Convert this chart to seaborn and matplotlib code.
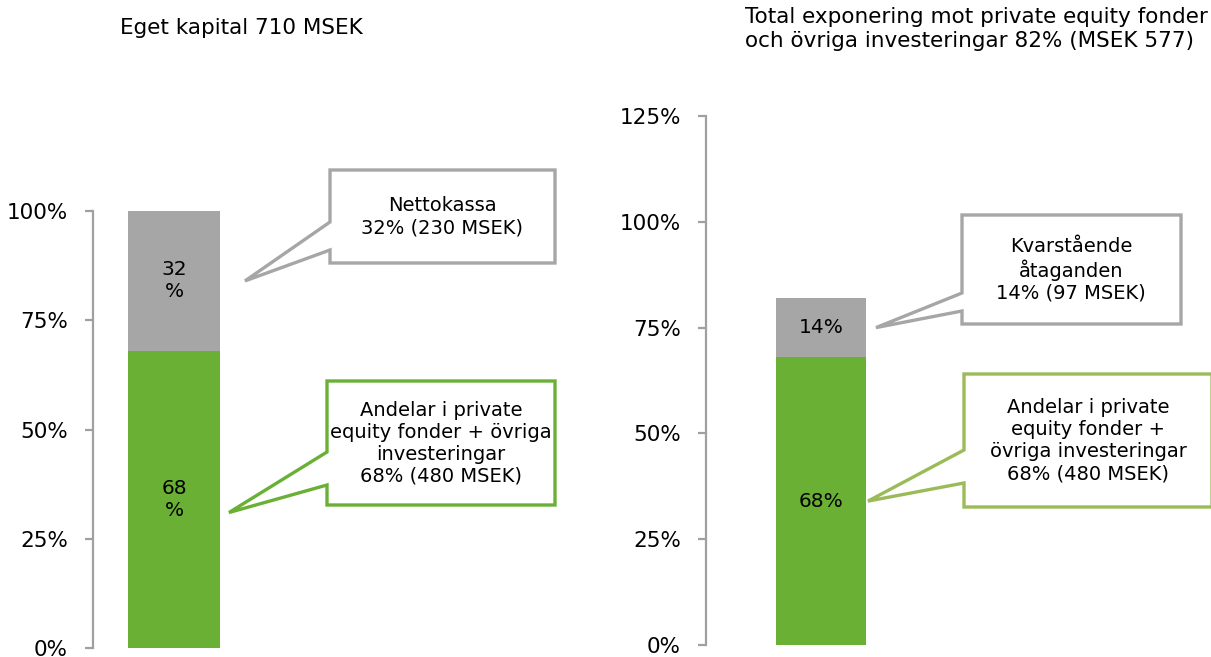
import matplotlib
matplotlib.use("Agg")
import matplotlib.pyplot as plt
from matplotlib.patches import Polygon
import seaborn as sns

# data (percent of equity)
left_title = "Eget kapital 710 MSEK"
left_values = [68, 32]            # investments, net cash
left_labels = ["68\n%", "32\n%"]
left_notes = ["Andelar i private\nequity fonder + övriga\ninvesteringar\n68% (480 MSEK)",
              "Nettokassa\n32% (230 MSEK)"]

right_title = "Total exponering mot private equity fonder\noch övriga investeringar 82% (MSEK 577)"
right_values = [68, 14]           # investments, remaining commitments
right_labels = ["68%", "14%"]
right_notes = ["Andelar i private\nequity fonder +\növriga investeringar\n68% (480 MSEK)",
               "Kvarstående\nåtaganden\n14% (97 MSEK)"]

W, H = 1211, 657
green = "#69B034"
green_light = "#9BBB59"
gray = "#A6A6A6"
axis_gray = "#A0A0A0"

sns.set_style("white")
plt.rcParams['font.family'] = ['DejaVu Sans']
plt.rcParams['text.color'] = 'black'

fig = plt.figure(figsize=(W / 100, H / 100), dpi=100)


def px_axes(left, top, right, bottom):
    return fig.add_axes([left / W, 1 - bottom / H, (right - left) / W, (bottom - top) / H])


def fig_xy(x, y):
    return (x / W, 1 - y / H)


def stacked_bar(ax, values, labels, width, ymax, ticks):
    total = sum(values)
    sns.barplot(x=["a"], y=[total], color=gray, saturation=1, width=width,
                linewidth=0, ax=ax)
    sns.barplot(x=["a"], y=[values[0]], color=green, saturation=1, width=width,
                linewidth=0, ax=ax)
    ax.set_xlim(-0.5, 0.5)
    ax.set_ylim(0, ymax)
    ax.set_yticks(ticks)
    ax.set_yticklabels([f"{t}%" for t in ticks])
    ax.set_xticks([])
    ax.set_xlabel("")
    ax.set_ylabel("")
    sns.despine(ax=ax, bottom=True)
    ax.spines['left'].set_color(axis_gray)
    ax.spines['left'].set_linewidth(1.6)
    ax.tick_params(axis='y', length=6, width=1.6, color=axis_gray, left=True,
                   labelsize=15.5, pad=12, labelcolor="black")
    # segment labels
    ax.text(0, values[0] / 2, labels[0], ha='center', va='center', fontsize=14.5,
            linespacing=1.2)
    ax.text(0, values[0] + values[1] / 2, labels[1], ha='center', va='center',
            fontsize=14.5, linespacing=1.2)


def tip_px(ax, value, half_width, offset):
    x, y = ax.transData.transform((half_width, value))
    return (x + offset, H - y)


def callout(box, joins, tip, edge, text, text_x):
    x0, y0, x1, y1 = box
    pts = [(x0, y0), (x1, y0), (x1, y1), (x0, y1), (x0, joins[1]), tip, (x0, joins[0])]
    fig.add_artist(Polygon([fig_xy(*p) for p in pts], closed=True, facecolor="white",
                           edgecolor=edge, linewidth=2.4, joinstyle="miter",
                           transform=fig.transFigure))
    fig.text(*fig_xy(text_x, (y0 + y1) / 2), text, ha='center', va='center',
             fontsize=14, linespacing=1.2)


# left chart
axl = px_axes(93, 211, 255, 648)
stacked_bar(axl, left_values, left_labels, 92 / 162, 100, [0, 25, 50, 75, 100])
fig.text(*fig_xy(120, 28), left_title, ha='left', va='center', fontsize=15.5)

# right chart
axr = px_axes(706, 116, 936, 645)
stacked_bar(axr, right_values, right_labels, 90 / 230, 125, [0, 25, 50, 75, 100, 125])
fig.text(*fig_xy(745, 29), right_title, ha='left', va='center', fontsize=15.5, linespacing=1.2)

# callouts
t = tip_px(axl, left_values[0] + left_values[1] / 2, 0.5 * 92 / 162, 25)
callout((330, 170, 555, 263), (222, 250), t, gray, left_notes[1], 442)
t = tip_px(axl, left_values[0] / 2 - 3, 0.5 * 92 / 162, 9)
callout((327, 381, 555, 505), (452, 485), t, green, left_notes[0], 441)

t = tip_px(axr, right_values[0] + right_values[1] / 2, 0.5 * 90 / 230, 10)
callout((962, 215, 1181, 324), (293, 311), t, gray, right_notes[1], 1071)
t = tip_px(axr, right_values[0] / 2, 0.5 * 90 / 230, 2)
callout((964, 374, 1212, 507), (450, 483), t, green_light, right_notes[0], 1088)

fig.savefig("out.png", dpi=100)
